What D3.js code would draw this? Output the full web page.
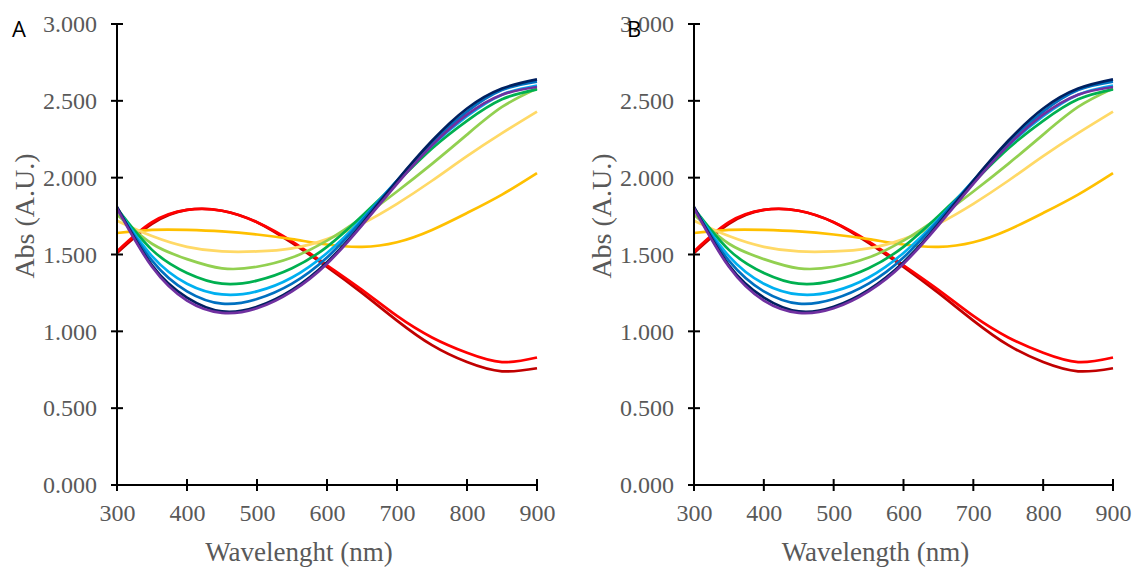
<!DOCTYPE html>
<html><head><meta charset="utf-8">
<script src="https://cdn.jsdelivr.net/npm/d3@7"></script>
<style>body{margin:0;background:#fff}svg{display:block}</style>
</head><body>
<svg id="chart" width="1134" height="569"></svg>
<script>
const wavelengths = [300,350,400,450,500,550,600,650,700,750,800,850,900];
const xTicks = [300,400,500,600,700,800,900];
const yTicks = [0,0.5,1,1.5,2,2.5,3];
const seriesNames = ["darkred","red","orange","lightyellow","lightgreen","green","lightblue","blue","navy","purple"];
const seriesColors = ["#C00000","#FF0000","#FFC000","#FFD966","#92D050","#00B050","#00B0F0","#0070C0","#002060","#7030A0"];
const darkred     = [1.51,1.70,1.79,1.785,1.71,1.575,1.42,1.25,1.07,0.91,0.80,0.74,0.76];
const red         = [1.52,1.71,1.79,1.785,1.71,1.585,1.43,1.27,1.10,0.96,0.86,0.80,0.83];
const orange      = [1.64,1.66,1.66,1.65,1.63,1.60,1.565,1.55,1.58,1.66,1.77,1.89,2.03];
const lightyellow = [1.72,1.62,1.55,1.52,1.52,1.54,1.60,1.70,1.83,1.98,2.14,2.29,2.43];
const lightgreen  = [1.76,1.57,1.47,1.41,1.42,1.48,1.59,1.74,1.91,2.09,2.28,2.46,2.58];
const green       = [1.80,1.53,1.38,1.31,1.33,1.41,1.55,1.75,1.97,2.19,2.37,2.51,2.575];
const lightblue   = [1.80,1.49,1.31,1.24,1.26,1.35,1.51,1.73,1.98,2.21,2.40,2.54,2.60];
const blue        = [1.80,1.46,1.26,1.18,1.21,1.31,1.48,1.72,1.98,2.23,2.43,2.57,2.625];
const navy        = [1.81,1.43,1.22,1.13,1.16,1.27,1.45,1.70,1.98,2.24,2.45,2.58,2.64];
const purple      = [1.80,1.42,1.20,1.12,1.15,1.26,1.44,1.69,1.96,2.21,2.41,2.54,2.59];
const seriesValues = [darkred,red,orange,lightyellow,lightgreen,green,lightblue,blue,navy,purple];

const panels = [
  {label:"A", xTitle:"Wavelenght (nm)", x0:117, x1:537, labelX:12},
  {label:"B", xTitle:"Wavelength (nm)", x0:694, x1:1113, labelX:627}
];
const svg = d3.select("#chart");
const yTop = 24, yBot = 485;
const fmt = d3.format(".3f");
const serif = "'Liberation Serif','Times New Roman',serif";
const grey = "#595959";

panels.forEach(p => {
  const x = d3.scaleLinear().domain([300,900]).range([p.x0,p.x1]);
  const y = d3.scaleLinear().domain([0,3]).range([yBot,yTop]);
  const g = svg.append("g");
  const line = d3.line().x((d,i)=>x(wavelengths[i])).y(d=>y(d)).curve(d3.curveNatural);
  seriesValues.forEach((vals,k) => {
    g.append("path").datum(vals).attr("d",line)
      .attr("fill","none").attr("stroke",seriesColors[k]).attr("stroke-width",2.7);
  });
  // y axis
  const ya = g.append("g").attr("transform",`translate(${p.x0},0)`)
    .call(d3.axisLeft(y).tickValues(yTicks).tickFormat(fmt).tickSize(0).tickPadding(20));
  ya.select(".domain").remove();
  ya.selectAll(".tick line").remove();
  ya.selectAll("text").attr("font-family",serif).attr("font-size",24).attr("fill",grey);
  g.append("line").attr("x1",p.x0).attr("x2",p.x0).attr("y1",yTop).attr("y2",yBot).attr("stroke","#000").attr("stroke-width",2);
  yTicks.forEach(t => g.append("line").attr("x1",p.x0-6).attr("x2",p.x0+6).attr("y1",y(t)).attr("y2",y(t)).attr("stroke","#000").attr("stroke-width",2));
  // x axis
  const xa = g.append("g").attr("transform",`translate(0,${yBot})`)
    .call(d3.axisBottom(x).tickValues(xTicks).tickFormat(d3.format("d")).tickSize(0).tickPadding(19));
  xa.select(".domain").remove();
  xa.selectAll(".tick line").remove();
  xa.selectAll("text").attr("font-family",serif).attr("font-size",24).attr("fill",grey);
  g.append("line").attr("x1",p.x0).attr("x2",p.x1).attr("y1",yBot).attr("y2",yBot).attr("stroke","#000").attr("stroke-width",2);
  xTicks.forEach(t => g.append("line").attr("x1",x(t)).attr("x2",x(t)).attr("y1",yBot-6).attr("y2",yBot+6).attr("stroke","#000").attr("stroke-width",2));
  // titles
  g.append("text").attr("x",(p.x0+p.x1)/2-28).attr("y",561).attr("text-anchor","middle")
    .attr("font-family",serif).attr("font-size",27).attr("fill",grey).text(p.xTitle);
  g.append("text").attr("transform",`translate(${p.x0-93},216) rotate(-90)`).attr("text-anchor","middle")
    .attr("dy","0.35em").attr("font-family",serif).attr("font-size",28).attr("fill",grey).text("Abs (A.U.)");
  g.append("text").attr("x",p.labelX).attr("y",37).attr("font-family","'Open Sans','DejaVu Sans',sans-serif")
    .attr("font-size",22).attr("fill","#000").text(p.label);
});
</script>
</body></html>
